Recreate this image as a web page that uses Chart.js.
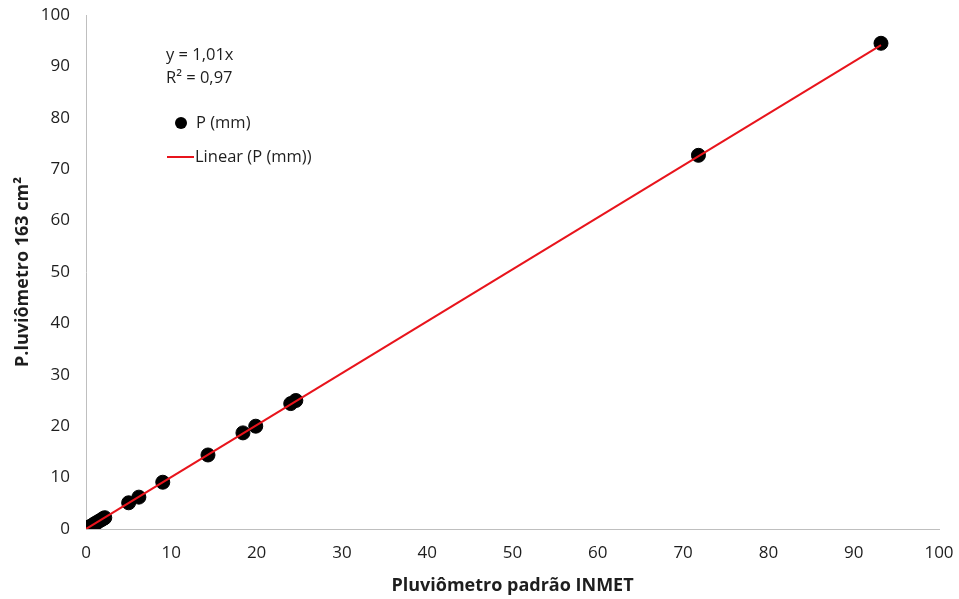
<!DOCTYPE html>
<html>
<head>
<meta charset="utf-8">
<script src="https://cdn.jsdelivr.net/npm/chart.js@4/dist/chart.umd.min.js"></script>
<style>
html,body{margin:0;padding:0;background:#fff;}
#wrap{width:959px;height:599px;position:relative;}
</style>
</head>
<body>
<div id="wrap"><canvas id="c" width="959" height="599"></canvas></div>
<script>
// Data
const inmetValues = [0.1, 0.3, 0.5, 0.8, 1.0, 1.2, 1.5, 1.8, 2.0, 2.2, 5.0, 6.2, 9.0, 14.3, 18.4, 19.9, 24.0, 24.6, 71.8, 93.2];
const pluvioValues = [0.1, 0.3, 0.5, 0.8, 1.0, 1.2, 1.5, 1.8, 2.0, 2.2, 5.1, 6.2, 9.1, 14.4, 18.7, 20.0, 24.4, 25.0, 72.7, 94.5];
const trendSlope = 1.01;
const trendX = [0, 93.2];
const tickValues = [0, 10, 20, 30, 40, 50, 60, 70, 80, 90, 100];
const equationLines = ['y = 1,01x', 'R² = 0,97'];
const seriesName = 'P (mm)';
const trendName = 'Linear (P (mm))';
const xTitle = 'Pluviômetro padrão INMET';
const yTitle = 'P.luviômetro 163 cm²';

const FONT = "'Open Sans', 'Noto Sans', sans-serif";
const TEXT = '#1e1e1e';

const points = inmetValues.map((x, i) => ({x: x, y: pluvioValues[i]}));
const trend = trendX.map(x => ({x: x, y: trendSlope * x}));

const legendPlugin = {
  id: 'inlineLegend',
  afterDraw(chart) {
    const ctx = chart.ctx;
    ctx.save();
    ctx.fillStyle = TEXT;
    ctx.font = "16.5px " + FONT;
    ctx.textBaseline = 'middle';
    ctx.textAlign = 'left';
    ctx.fillText(equationLines[0], 166, 55);
    ctx.fillText(equationLines[1], 166, 78);
    // series marker
    ctx.beginPath();
    ctx.arc(181, 123, 6, 0, Math.PI * 2);
    ctx.fillStyle = '#000';
    ctx.fill();
    ctx.fillStyle = TEXT;
    ctx.fillText(seriesName, 196, 123);
    // trend marker
    ctx.strokeStyle = '#e8141c';
    ctx.lineWidth = 2;
    ctx.beginPath();
    ctx.moveTo(167, 157);
    ctx.lineTo(194, 157);
    ctx.stroke();
    ctx.fillText(trendName, 195, 157);
    ctx.restore();
  }
};

new Chart(document.getElementById('c'), {
  type: 'scatter',
  data: {
    datasets: [
      {
        label: trendName,
        data: trend,
        type: 'line',
        showLine: true,
        borderColor: '#e8141c',
        borderWidth: 2,
        pointRadius: 0,
        fill: false,
        order: 0
      },
      {
        label: seriesName,
        data: points,
        backgroundColor: '#000',
        borderColor: '#000',
        pointRadius: 7,
        pointHoverRadius: 7,
        order: 1
      }
    ]
  },
  plugins: [legendPlugin],
  options: {
    responsive: false,
    animation: false,
    layout: {padding: {left: 0, right: 20, top: 15, bottom: 0}},
    plugins: {
      legend: {display: false},
      tooltip: {enabled: false}
    },
    scales: {
      x: {
        type: 'linear',
        min: 0, max: 100,
        afterBuildTicks(axis) { axis.ticks = tickValues.map(v => ({value: v})); },
        afterFit(axis) { axis.height = 70; axis.paddingLeft = 0; axis.paddingRight = 0; },
        grid: {display: false, drawTicks: false},
        border: {display: true, color: '#bfbfbf', width: 1},
        ticks: {color: TEXT, font: {family: FONT, size: 17}, padding: 14},
        title: {display: true, text: xTitle, color: TEXT, font: {family: FONT, size: 18, weight: 'bold'}, padding: {top: 4, bottom: 2}}
      },
      y: {
        type: 'linear',
        min: 0, max: 100,
        afterBuildTicks(axis) { axis.ticks = tickValues.map(v => ({value: v})); },
        afterFit(axis) { axis.width = 86; axis.paddingTop = 0; axis.paddingBottom = 0; },
        grid: {display: false, drawTicks: false},
        border: {display: true, color: '#bfbfbf', width: 1},
        ticks: {color: TEXT, font: {family: FONT, size: 17}, padding: 16},
        title: {display: true, text: yTitle, color: TEXT, font: {family: FONT, size: 18, weight: 'bold'}, padding: {top: 12, bottom: 4}}
      }
    }
  }
});
</script>
</body>
</html>
